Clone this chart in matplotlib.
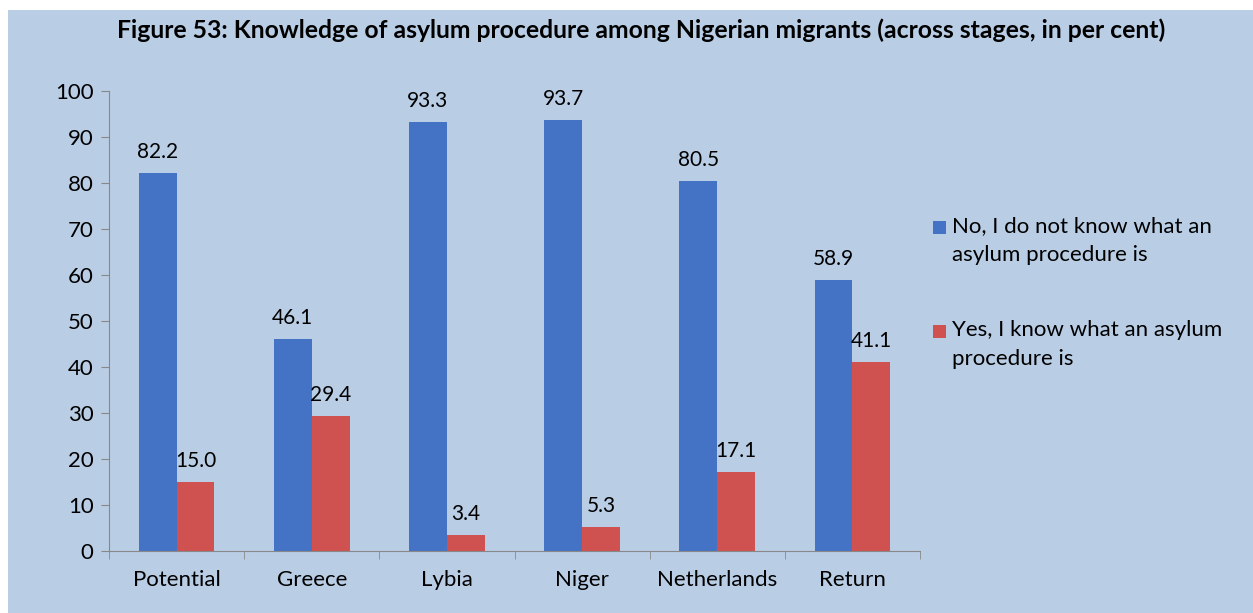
import numpy as np
import matplotlib.pyplot as plt
from matplotlib.patches import Rectangle

plt.rcParams['font.family'] = ['Lato', 'DejaVu Sans']

# Data
stages = ['Potential', 'Greece', 'Lybia', 'Niger', 'Netherlands', 'Return']
no_knowledge = [82.2, 46.1, 93.3, 93.7, 80.5, 58.9]
yes_knowledge = [15.0, 29.4, 3.4, 5.3, 17.1, 41.1]
labels = ['No, I do not know what an\nasylum procedure is',
          'Yes, I know what an asylum\nprocedure is']

bg = '#B9CDE5'
blue = '#4472C4'
red = '#D05250'
W, H = 1253, 613

fig = plt.figure(figsize=(12.53, 6.13), dpi=100)
fig.patch.set_facecolor('white')
# light blue panel with white margin at top/left
fig.patches.append(Rectangle((8 / W, 0), 1, 1 - 10 / H, transform=fig.transFigure,
                             facecolor=bg, edgecolor='none', zorder=-1))

ax = fig.add_axes([109 / W, 1 - 551 / H, (920 - 109) / W, (551 - 91) / H])
ax.patch.set_alpha(0)

x = np.arange(len(stages))
w = 0.28
b1 = ax.bar(x - w / 2, no_knowledge, w, color=blue)
b2 = ax.bar(x + w / 2, yes_knowledge, w, color=red)

for bars, vals in [(b1, no_knowledge), (b2, yes_knowledge)]:
    for bar, v in zip(bars, vals):
        ax.annotate(f'{v:.1f}', (bar.get_x() + bar.get_width() / 2, v),
                    xytext=(0, 8), textcoords='offset points',
                    ha='center', va='bottom', fontsize=15)

ax.set_xlim(-0.5, len(stages) - 0.5)
ax.set_ylim(0, 100)
ax.set_yticks(range(0, 101, 10))
ax.set_xticks(x)
ax.set_xticklabels(stages)
ax.set_xticks(np.arange(-0.5, len(stages), 1), minor=True)
ax.tick_params(axis='x', which='major', length=0, pad=14, labelsize=16)
ax.tick_params(axis='x', which='minor', length=6, color='#888888')
ax.tick_params(axis='y', length=6, color='#888888', labelsize=16, pad=5)

for s in ['top', 'right']:
    ax.spines[s].set_visible(False)
for s in ['left', 'bottom']:
    ax.spines[s].set_color('#888888')

fig.text(641 / W, 1 - 30 / H,
         'Figure 53: Knowledge of asylum procedure among Nigerian migrants (across stages, in per cent)',
         ha='center', va='center', fontsize=17.8, fontweight='bold')

# legend: square aligned with the first line of each wrapped label
for lab, col, yc in [(labels[0], blue, 227), (labels[1], red, 331)]:
    fig.patches.append(Rectangle((933 / W, 1 - (yc + 6.5) / H), 13 / W, 13 / H,
                                 transform=fig.transFigure, facecolor=col, edgecolor='none'))
    fig.text(952 / W, 1 - (yc - 11) / H, lab, ha='left', va='top', fontsize=16,
             linespacing=1.55)

fig.savefig('out.png', dpi=100, facecolor=fig.get_facecolor())
